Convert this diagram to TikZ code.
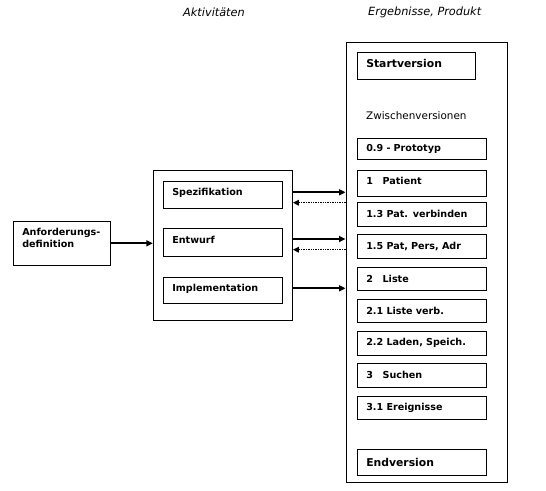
\documentclass[tikz,border=0pt]{standalone}
\usepackage{fontspec}
\setmainfont{DejaVu Sans}
\usetikzlibrary{arrows.meta,calc}
\begin{document}
\begin{tikzpicture}[x=1pt,y=-1pt,
  box/.style={draw,line width=1pt,rectangle,inner sep=0pt,inner xsep=9pt,
    align=left,font=\fontsize{9.6}{12}\selectfont\bfseries},
  raised/.style={text height=7pt,text depth=5pt},
  vbox/.style={box,minimum width=129pt,text width=111pt},
  abox/.style={box,raised,minimum width=119pt,text width=101pt},
  sarr/.style={line width=1.7pt,-{Triangle[length=6.5pt,width=6pt]}},
  darr/.style={line width=1.4pt,dash pattern=on 1.4pt off 1pt,-{Triangle[length=6pt,width=5.5pt]}},
  head/.style={font=\fontsize{11.3}{13}\selectfont\itshape}]
\useasboundingbox[fill=white] (0,0) rectangle (546,490);
% headings
\node[head] (hA) at (214,12) {Aktivitäten};
\node[head] (hE) at (424.7,12) {Ergebnisse, Produkt};
% left
\node[box,minimum width=97pt,minimum height=44pt,text width=79pt] (anf) at (61.8,243.3) {Anforderungs-\\definition\\[-1pt]\mbox{}};
% middle
\node[draw,line width=1pt,minimum width=139pt,minimum height=150pt,inner sep=0pt] (mid) at (222.8,245) {};
\node[abox,minimum height=27pt] (spez) at (222.8,194.8) {Spezifikation};
\node[abox,minimum height=28pt] (entw) at (222.8,242.3) {Entwurf};
\node[abox,minimum height=26pt] (impl) at (222.8,290.3) {Implementation};
% right
\node[draw,line width=1pt,minimum width=161.3pt,minimum height=439.6pt,inner sep=0pt] (outer) at (426.65,262.5) {};
\node[box,raised,minimum width=118.4pt,text width=100.4pt,minimum height=26.6pt,font=\fontsize{10.8}{12}\selectfont\bfseries] (start) at (416.5,66) {Startversion};
\node[anchor=west,inner sep=0pt,font=\fontsize{10.4}{12}\selectfont] (zw) at (366,116) {Zwischenversionen};
\newcommand{\numl}[1]{\makebox[16.3pt][l]{#1}}
\node[vbox,minimum height=20.7pt] (v09) at (421.8,148.65) {0.9 - Prototyp};
\node[vbox,raised,minimum height=25.8pt] (v1) at (421.8,183.1) {\numl{1}Patient};
\node[vbox,minimum height=23.7pt] (v13) at (421.8,214.2) {1.3 Pat. verbinden};
\node[vbox,minimum height=24pt] (v15) at (421.8,246.3) {1.5 Pat, Pers, Adr};
\node[vbox,minimum height=22.7pt] (v2) at (421.8,278.7) {\numl{2}Liste};
\node[vbox,minimum height=23pt] (v21) at (421.8,310.8) {2.1 Liste verb.};
\node[vbox,minimum height=24pt] (v22) at (421.8,343.3) {2.2 Laden, Speich.};
\node[vbox,minimum height=24pt] (v3) at (421.8,375.3) {\numl{3}Suchen};
\node[vbox,minimum height=22.7pt] (v31) at (421.8,407.7) {3.1 Ereignisse};
\node[vbox,minimum height=26pt,font=\fontsize{10.8}{12}\selectfont\bfseries] (vend) at (421.8,462.3) {Endversion};
% connectors
\draw[sarr] (anf.east) -- (mid.west |- anf.east);
\draw[sarr] (mid.east |- 0,192.3) -- (outer.west |- 0,192.3);
\draw[darr] (outer.west |- 0,202.7) -- (mid.east |- 0,202.7);
\draw[sarr] (mid.east |- 0,239) -- (outer.west |- 0,239);
\draw[darr] (outer.west |- 0,249.7) -- (mid.east |- 0,249.7);
\draw[sarr] (mid.east |- 0,288.3) -- (outer.west |- 0,288.3);
\end{tikzpicture}
\end{document}
